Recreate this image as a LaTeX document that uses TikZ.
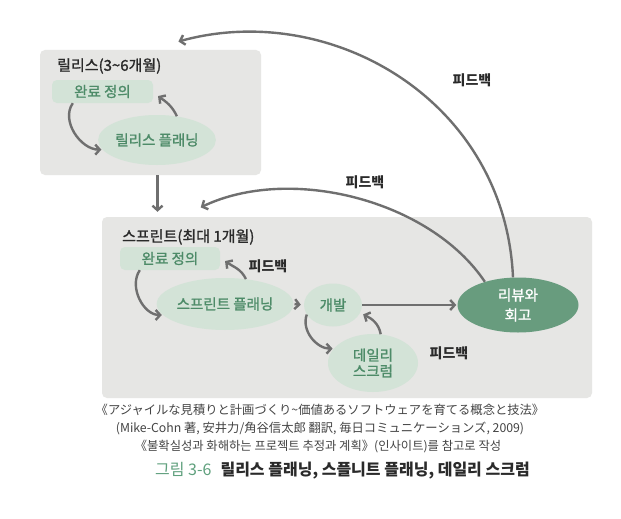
\documentclass[tikz,border=0pt]{standalone}
\usepackage{fontspec}
\setmainfont{Noto Sans CJK KR}
\newfontfamily\medfont[FakeBold=1.4]{Noto Sans CJK KR}
\newfontfamily\jpfont{Noto Sans CJK JP}
\usetikzlibrary{arrows.meta,shapes.geometric}
\definecolor{boxgray}{HTML}{E6E6E4}
\definecolor{lightgreen}{HTML}{D3E3D7}
\definecolor{darkgreen}{HTML}{689C7E}
\definecolor{textgreen}{HTML}{4D8B68}
\definecolor{arrowgray}{HTML}{6F6F6F}
\definecolor{captiongreen}{HTML}{5FA07D}
\definecolor{textdark}{HTML}{2A2A2A}
\definecolor{captiongray}{HTML}{444444}
\begin{document}
\begin{tikzpicture}[x=1pt,y=1pt,
  frame/.style={fill=boxgray, rounded corners=5pt, inner sep=0pt},
  titletext/.style={text=textdark, font=\medfont\fontsize{15}{17}\selectfont, inner sep=0pt},
  donebox/.style={fill=lightgreen, rounded corners=5pt, minimum width=101pt, minimum height=23pt, inner sep=0pt, text=textgreen, font=\medfont\fontsize{14.5}{16}\selectfont},
  lightell/.style={ellipse, fill=lightgreen, inner sep=0pt, text=textgreen, font=\medfont\fontsize{14.5}{16}\selectfont, align=center},
  darkell/.style={ellipse, fill=darkgreen, inner sep=0pt, text=white, font=\medfont\fontsize{14.5}{20}\selectfont, align=center},
  fbtext/.style={text=textdark, font=\bfseries\fontsize{14}{16}\selectfont, inner sep=0pt},
  captext/.style={text=captiongray, font=\fontsize{12.3}{14}\selectfont, inner sep=0pt},
  arr/.style={draw=arrowgray, line width=2.4pt, -{Straight Barb[length=4.5pt,width=10pt]}, shorten >=1pt}
]
\useasboundingbox[fill=white] (0,0) rectangle (621,-519);

% frames
\node[frame, minimum width=221pt, minimum height=125pt] (rel) at (150.5,-112.5) {};
\node[frame, minimum width=490pt, minimum height=181pt] (spr) at (347,-307.5) {};

% titles
\node[titletext, anchor=west] (reltitle) at (57,-66) {릴리스(3\textasciitilde6개월)};
\node[titletext, anchor=west] (sprtitle) at (122,-237) {스프린트(최대 1개월)};

% release nodes
\node[donebox] (done1) at (102.5,-91.5) {완료 정의};
\node[lightell, minimum width=117pt, minimum height=50pt] (relplan) at (157,-140) {릴리스 플래닝};

% sprint nodes
\node[donebox, minimum width=100pt] (done2) at (170,-258.5) {완료 정의};
\node[lightell, minimum width=116pt, minimum height=52pt] (sprplan) at (225,-304) {스프린트 플래닝};
\node[lightell, minimum width=58pt, minimum height=43pt] (dev) at (333,-305) {개발};
\node[lightell, minimum width=90pt, minimum height=58pt] (daily) at (373,-363) {데일리\\스크럼};
\node[darkell, minimum width=121pt, minimum height=55pt] (review) at (518,-305) {리뷰와\\회고};

% feedback labels
\node[fbtext] (fb1) at (472,-80) {피드백};
\node[fbtext] (fb2) at (365,-182) {피드백};
\node[fbtext] (fb3) at (268,-266) {피드백};
\node[fbtext] (fb4) at (449,-353) {피드백};

% helper coordinates
\coordinate (relout) at ([xshift=7pt]rel.south);
\coordinate (topin) at ([xshift=27pt,yshift=8pt]rel.north);
\coordinate (sprin) at ([xshift=98pt,yshift=9pt]spr.north west);

% arrows in release
\draw[arr] ([xshift=21pt]done1.south west) to[out=235,in=180] (relplan.190);
\draw[arr] (relplan.50) to[out=115,in=-35] ([xshift=4pt,yshift=-4pt]done1.east);
% release -> sprint
\draw[arr, shorten >=5pt] (relout) -- (relout |- spr.north);
% sprint arrows
\draw[arr] ([xshift=20pt]done2.south west) to[out=235,in=180] (sprplan.190);
\draw[arr] (sprplan.50) to[out=115,in=-35] ([xshift=4pt,yshift=-2pt]done2.east);
\draw[arr, shorten >=3pt, shorten <=1pt] (sprplan.east) -- (dev.west);
\draw[arr] (dev.200) to[out=250,in=180] (daily.160);
\draw[arr] (daily.75) to[out=100,in=-25] ([yshift=-9pt]dev.east);
\draw[arr, shorten >=1pt] (dev.east) -- (review.west);
% feedback loops
\draw[arr] (review.145) .. controls +(-55,82) and +(90,43) .. (sprin);
\draw[arr] ([xshift=-5pt]review.north) .. controls +(-8,178) and +(152,42) .. (topin);

% captions
\node[captext, font=\jpfont\fontsize{12.3}{14}\selectfont] (cap1) at (320,-410) {《アジャイルな見積りと計画づくり\textasciitilde 価値あるソフトウェアを育てる概念と技法》};
\node[captext, font=\jpfont\fontsize{12.3}{14}\selectfont] (cap2) at (320,-428) {(Mike-Cohn 著, 安井力/角谷信太郎 翻訳, 毎日コミュニケーションズ, 2009)};
\node[captext] (cap3) at (318,-446) {《불확실성과 화해하는 프로젝트 추정과 계획》(인사이트)를 참고로 작성};
\node[inner sep=0pt, anchor=west, font=\fontsize{16}{18}\selectfont] (fig) at (155,-471) {{\color{captiongreen}그림 3-6}\hspace{9pt}{\bfseries\color{textdark}릴리스 플래닝, 스플니트 플래닝, 데일리 스크럼}};
\end{tikzpicture}
\end{document}
